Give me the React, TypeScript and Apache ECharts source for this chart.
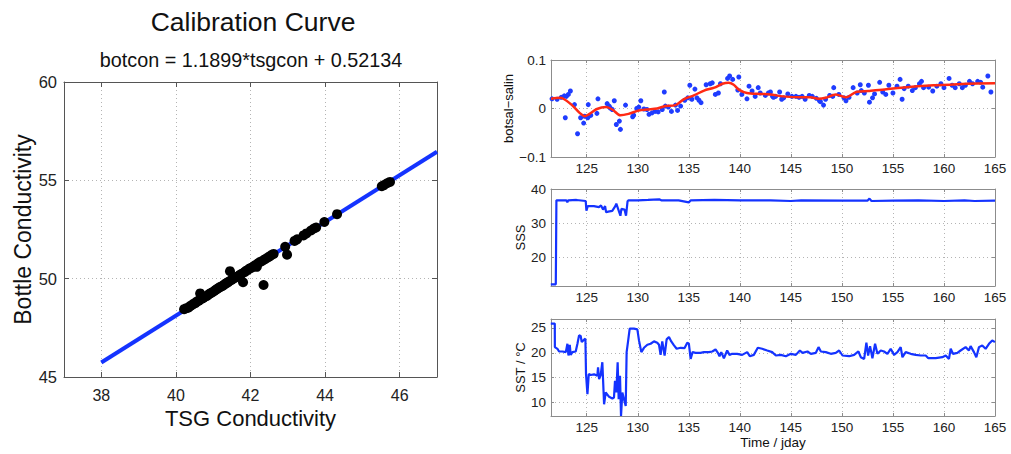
import React, { useEffect, useRef } from "react";
import * as echarts from "echarts";

// ---------- Calibration data ----------
const tsgCond = [
  40.22, 40.28, 40.33, 40.38, 40.42, 40.47, 40.52, 40.55, 40.6, 40.63, 40.65, 40.7, 40.74, 40.78,
  40.83, 40.88, 40.92, 40.97, 41.02, 41.06, 41.1, 41.14, 41.18, 41.22, 41.26, 41.3, 41.34, 41.38,
  41.42, 41.45, 41.48, 41.52, 41.56, 41.6, 41.64, 41.68, 41.72, 41.76, 41.8, 41.84, 41.88, 41.93,
  41.98, 42.03, 42.08, 42.12, 42.17, 42.2, 42.26, 42.31, 42.35, 42.38, 42.44, 42.5, 42.56, 42.62,
  42.93, 42.98, 43.18, 43.25, 43.42, 43.5, 43.62, 43.7, 43.76, 43.98, 44.32, 45.52, 45.58, 45.66, 45.74,
];
const botCond = [
  48.45, 48.5, 48.52, 48.6, 48.65, 48.72, 48.75, 48.82, 48.87, 48.9, 49.25, 48.98, 49.03, 49.08,
  49.12, 49.2, 49.25, 49.3, 49.36, 49.42, 49.47, 49.52, 49.57, 49.6, 49.65, 49.7, 49.76, 49.8,
  49.85, 50.38, 49.92, 49.98, 50.02, 50.06, 50.1, 50.15, 50.2, 50.25, 49.82, 50.33, 50.4, 50.45,
  50.52, 50.56, 50.62, 50.68, 50.6, 50.78, 50.85, 50.9, 49.68, 50.98, 51.05, 51.12, 51.2, 51.26,
  51.62, 51.22, 51.92, 52.0, 52.2, 52.3, 52.45, 52.55, 52.6, 52.88, 53.28, 54.7, 54.76, 54.85, 54.92,
];
const fitX = [38, 47];
const fitY = [45.74, 56.45];

// ---------- botsal - salin ----------
const diffDay = [
  121.6, 122.1, 122.5, 122.8, 122.9, 123.0, 123.2, 123.4, 123.8, 124.1, 124.4, 124.7, 124.8, 125.1,
  125.15, 125.2, 125.4, 126.0, 126.1, 127.0, 127.2, 127.3, 127.5, 127.7, 127.9, 128.2, 128.3, 128.8,
  129.5, 129.6, 129.9, 130.1, 130.3, 130.6, 130.9, 131.1, 131.4, 131.7, 132.0, 132.4, 132.6, 132.7,
  133.0, 133.3, 133.7, 133.9, 134.2, 134.6, 134.9, 135.1, 135.3, 135.6, 135.8, 136.0, 136.2, 136.7,
  137.1, 137.3, 137.6, 137.9, 138.1, 138.8, 139.0, 139.3, 139.8, 139.9, 140.2, 140.7, 140.9, 141.2,
  141.5, 141.8, 142.0, 142.5, 142.8, 143.0, 143.2, 143.3, 143.5, 143.9, 144.1, 144.3, 144.7, 145.1,
  145.5, 145.8, 146.1, 146.4, 146.8, 147.1, 147.5, 147.8, 147.9, 148.2, 148.4, 148.8, 149.1, 149.2,
  149.7, 150.2, 150.4, 150.7, 151.1, 151.5, 151.8, 151.9, 152.2, 152.6, 152.7, 153.0, 153.2, 153.7,
  154.0, 154.3, 154.6, 155.0, 155.4, 155.7, 155.9, 156.1, 156.5, 156.9, 157.2, 157.6, 157.8, 158.0,
  158.5, 158.9, 159.3, 159.7, 160.0, 160.5, 160.8, 161.1, 161.5, 161.8, 162.1, 162.5, 162.8, 163.3,
  163.6, 163.8, 164.3, 164.6,
];
const diffVal = [
  0.02, 0.019, 0.023, 0.026, -0.019, 0.025, 0.029, 0.036, 0.008, -0.052, -0.019, -0.03, -0.016, -0.019,
  0.008, -0.016, -0.014, -0.01, 0.02, 0.01, 0.005, 0.001, -0.002, 0.016, -0.033, -0.026, -0.043, 0.007,
  -0.017, -0.014, 0.0, 0.003, 0.016, -0.001, -0.002, -0.012, -0.009, -0.006, -0.007, -0.002, 0.034, 0.005,
  0.003, -0.006, 0.007, -0.004, 0.005, 0.017, 0.022, 0.048, 0.019, 0.04, 0.022, 0.017, 0.012, 0.049,
  0.051, 0.053, 0.029, 0.032, 0.051, 0.062, 0.067, 0.06, 0.038, 0.065, 0.029, 0.02, 0.046, 0.036,
  0.025, 0.043, 0.032, 0.027, 0.032, 0.034, 0.025, 0.023, 0.025, 0.034, 0.019, 0.022, 0.03, 0.025,
  0.025, 0.023, 0.025, 0.019, 0.027, 0.025, 0.021, 0.016, 0.014, 0.007, 0.019, 0.027, 0.025, 0.043,
  0.029, 0.022, 0.016, 0.023, 0.043, 0.032, 0.049, 0.037, 0.032, 0.048, 0.013, 0.022, 0.03, 0.054,
  0.034, 0.029, 0.048, 0.032, 0.046, 0.06, 0.019, 0.041, 0.046, 0.037, 0.043, 0.051, 0.056, 0.043,
  0.044, 0.036, 0.046, 0.051, 0.043, 0.062, 0.048, 0.043, 0.051, 0.043, 0.048, 0.056, 0.051, 0.056,
  0.054, 0.044, 0.067, 0.034,
];
const smoothDay = [
  121.5, 122.4, 123.5, 124.3, 124.8, 125.2, 126.0, 126.9, 127.5, 128.3, 129.1, 130.1, 130.9, 131.9,
  132.7, 133.7, 134.5, 135.5, 136.5, 137.5, 138.3, 138.9, 139.4, 139.9, 140.7, 142.0, 143.0, 144.2,
  146.1, 146.9, 147.7, 148.4, 149.4, 150.4, 151.4, 152.6, 154.2, 155.8, 157.4, 159.0, 160.6, 162.2, 165.0,
];
const smoothVal = [
  0.02, 0.022, 0.008, -0.009, -0.016, -0.012, -0.001, 0.003, -0.002, -0.014, -0.011, -0.004, -0.002, 0.0,
  0.005, 0.007, 0.019, 0.027, 0.037, 0.043, 0.051, 0.053, 0.049, 0.039, 0.032, 0.03, 0.029, 0.025,
  0.023, 0.023, 0.02, 0.022, 0.029, 0.023, 0.034, 0.036, 0.039, 0.043, 0.046, 0.048, 0.049, 0.051, 0.052,
];

// ---------- SSS ----------
const sssDay = [
  121.48, 121.97, 122.03, 123.0, 123.1, 123.2, 124.0, 124.9, 124.97, 125.1, 125.7, 126.2, 126.4, 126.6,
  126.8, 126.9, 127.1, 127.5, 127.8, 127.9, 128.1, 128.3, 128.4, 128.7, 128.85, 129.0, 129.1, 130.0,
  131.0, 132.1, 132.3, 134.0, 135.0, 135.2, 137.5, 140.0, 143.0, 145.0, 146.0, 150.0, 152.5, 152.7,
  152.9, 155.0, 157.5, 160.0, 162.0, 163.0, 165.0,
];
const sssVal = [
  12.2, 12.2, 36.7, 36.7, 36.1, 36.7, 36.8, 36.5, 33.7, 35.0, 35.0, 34.7, 35.2, 34.0,
  35.0, 33.2, 33.4, 33.6, 35.0, 35.7, 34.0, 32.2, 34.2, 34.0, 32.2, 36.4, 36.7, 36.7,
  36.8, 37.0, 36.7, 36.7, 36.1, 36.7, 36.8, 36.7, 36.7, 36.5, 36.7, 36.6, 36.6, 37.2,
  36.5, 36.6, 36.7, 36.5, 36.7, 36.5, 36.6,
];

// ---------- SST ----------
const sstDay = [
  121.48, 121.87, 121.88, 122.13, 122.29, 122.62, 122.95, 123.11, 123.21, 123.34, 123.43, 123.6, 123.92, 124.09,
  124.25, 124.41, 124.51, 124.74, 124.87, 124.93, 125.07, 125.2, 125.39, 125.72, 126.04, 126.11, 126.21, 126.37,
  126.53, 126.7, 126.86, 127.19, 127.51, 127.67, 127.77, 127.9, 128.03, 128.13, 128.26, 128.36, 128.49, 128.65,
  128.82, 128.91, 129.04, 129.21, 129.63, 129.96, 130.12, 130.35, 130.61, 130.94, 131.26, 131.59, 131.91, 132.08,
  132.24, 132.4, 132.63, 132.83, 133.06, 133.28, 133.55, 133.81, 134.2, 134.59, 134.85, 135.01, 135.18, 135.37,
  135.67, 136.15, 136.48, 136.97, 137.3, 137.62, 137.85, 138.01, 138.18, 138.44, 138.76, 138.99, 139.25, 139.74,
  140.23, 140.72, 140.98, 141.37, 141.76, 142.19, 142.68, 143.17, 143.53, 144.02, 144.51, 145.0, 145.49, 145.88,
  146.14, 146.63, 146.96, 147.45, 147.71, 147.94, 148.42, 148.91, 149.4, 149.73, 150.06, 150.71, 151.2, 151.62,
  151.85, 152.18, 152.4, 152.57, 152.76, 152.99, 153.25, 153.48, 153.81, 154.13, 154.46, 154.78, 155.11, 155.44,
  155.76, 155.93, 156.25, 156.74, 157.23, 157.72, 158.21, 158.47, 159.19, 159.84, 160.17, 160.49, 160.66, 160.88,
  161.31, 161.63, 162.12, 162.45, 162.61, 162.94, 163.17, 163.43, 163.75, 164.08, 164.41, 164.73, 164.99,
];
const sstVal = [
  25.88, 25.88, 21.15, 20.81, 20.27, 20.27, 20.14, 21.82, 19.46, 21.62, 19.59, 20.14, 20.27, 21.82,
  23.51, 23.38, 22.16, 22.64, 22.84, 15.74, 11.69, 15.74, 15.54, 15.68, 15.41, 17.09, 14.73, 15.54,
  18.11, 9.66, 12.03, 11.15, 10.81, 11.01, 14.39, 12.03, 18.11, 10.68, 15.41, 7.3, 12.03, 10.68,
  9.32, 20.14, 22.16, 24.86, 24.86, 24.73, 22.5, 20.14, 21.01, 21.62, 21.82, 22.3, 22.03, 21.62,
  19.59, 22.3, 19.46, 22.7, 23.18, 22.3, 21.49, 20.81, 21.01, 20.95, 22.03, 21.82, 18.78, 20.14,
  20.0, 20.0, 20.14, 20.14, 20.27, 20.68, 20.0, 19.32, 20.14, 18.92, 20.47, 19.59, 19.8, 19.8,
  19.59, 20.14, 19.32, 19.59, 21.01, 20.81, 20.47, 20.14, 19.46, 19.59, 19.32, 19.8, 19.59, 20.47,
  20.0, 20.27, 19.8, 20.0, 21.15, 20.27, 20.14, 19.8, 20.0, 20.47, 19.46, 19.32, 19.59, 20.27,
  19.12, 18.78, 22.03, 19.46, 21.35, 18.92, 21.82, 19.8, 20.47, 20.27, 19.8, 20.81, 19.59, 20.14,
  21.15, 19.12, 20.14, 19.8, 19.59, 19.46, 19.46, 18.92, 18.92, 19.12, 19.46, 18.78, 20.81, 19.8,
  20.0, 20.47, 21.15, 20.47, 21.35, 20.14, 19.12, 21.15, 21.49, 20.81, 21.82, 22.5, 22.16,
];

// ---------- Ticks ----------
const calXTicks = [38, 40, 42, 44, 46];
const calYTicks = [45, 50, 55, 60];
const dayTicks = [125, 130, 135, 140, 145, 150, 155, 160, 165];
const diffTicks = [-0.1, 0, 0.1];
const sssTicks = [20, 30, 40];
const sstTicks = [10, 15, 20, 25];

const FONT = "'Liberation Sans', Arial, Helvetica, sans-serif";

const zip = (a: number[], b: number[]) => a.map((v, i) => [v, b[i]]);

export default function App() {
  const ref = useRef<HTMLDivElement>(null);

  useEffect(() => {
    document.body.style.margin = "0";
    if (!ref.current) return;
    const chart = echarts.init(ref.current, null, { renderer: "svg" });

    const grids = [
      { left: 64, top: 82, width: 373, height: 295 },
      { left: 551, top: 60, width: 444, height: 97 },
      { left: 551, top: 189, width: 444, height: 97 },
      { left: 551, top: 319, width: 444, height: 97 },
    ];

    const frameL = "#555";
    const frameR = "#8c8c8c";
    const gridLine = { show: true, lineStyle: { color: "#b4b4b4", type: [1, 3] as any, width: 1 } };

    const mkX = (gi: number, min: number, max: number, ticks: number[], big: boolean, name = "") => {
      const frame = big ? frameL : frameR;
      return [
        {
          type: "value",
          gridIndex: gi,
          position: "bottom",
          min,
          max,
          name,
          nameLocation: "middle",
          nameGap: big ? 23 : 19,
          nameTextStyle: { fontFamily: FONT, fontSize: big ? 22 : 13.5, color: "#111" },
          axisLine: { show: true, onZero: false, lineStyle: { color: frame, width: 1 } },
          axisTick: { show: true, inside: true, length: big ? 5 : 3, customValues: ticks, lineStyle: { color: frame } },
          axisLabel: {
            show: true,
            customValues: ticks,
            margin: big ? 10 : 4,
            fontFamily: FONT,
            fontSize: big ? 16 : 13.5,
            color: "#222",
          },
          splitLine: gridLine,
        },
        {
          type: "value",
          gridIndex: gi,
          position: "top",
          min,
          max,
          axisLine: { show: true, onZero: false, lineStyle: { color: frame, width: 1 } },
          axisTick: { show: true, inside: true, length: big ? 5 : 3, customValues: ticks, lineStyle: { color: frame } },
          axisLabel: { show: false },
          splitLine: { show: false },
        },
      ];
    };

    const mkY = (
      gi: number,
      min: number,
      max: number,
      ticks: number[],
      big: boolean,
      name: string,
      gap: number,
      fmt?: (v: number) => string
    ) => {
      const frame = big ? frameL : frameR;
      return [
        {
          type: "value",
          gridIndex: gi,
          position: "left",
          min,
          max,
          name,
          nameLocation: "middle",
          nameGap: gap,
          nameRotate: 90,
          nameTextStyle: { fontFamily: FONT, fontSize: big ? 23 : 13, color: "#111" },
          axisLine: { show: true, onZero: false, lineStyle: { color: frame, width: 1 } },
          axisTick: { show: true, inside: true, length: big ? 5 : 3, customValues: ticks, lineStyle: { color: frame } },
          axisLabel: {
            show: true,
            customValues: ticks,
            margin: big ? 7 : 5,
            fontFamily: FONT,
            fontSize: big ? 16.5 : 13.5,
            color: "#222",
            formatter: fmt,
          },
          splitLine: gridLine,
        },
        {
          type: "value",
          gridIndex: gi,
          position: "right",
          min,
          max,
          axisLine: { show: true, onZero: false, lineStyle: { color: frame, width: 1 } },
          axisTick: { show: true, inside: true, length: big ? 5 : 3, customValues: ticks, lineStyle: { color: frame } },
          axisLabel: { show: false },
          splitLine: { show: false },
        },
      ];
    };

    const minusFmt = (v: number) => (Math.abs(v) < 1e-9 ? "0" : String(v).replace("-", "\u2212"));

    const xAxes = [
      ...mkX(0, 37, 47, calXTicks, true, "TSG Conductivity"),
      ...mkX(1, 121.5, 165, dayTicks, false),
      ...mkX(2, 121.5, 165, dayTicks, false),
      ...mkX(3, 121.5, 165, dayTicks, false, "Time / jday"),
    ];
    const yAxes = [
      ...mkY(0, 45, 60, calYTicks, true, "Bottle Conductivity", 30),
      ...mkY(1, -0.1, 0.1, diffTicks, false, "botsal\u2212salin", 32, minusFmt),
      ...mkY(2, 11.7, 40, sssTicks, false, "SSS", 20),
      ...mkY(3, 7.3, 26.8, sstTicks, false, "SST / \u00B0C", 20),
    ];

    const blue = "#1433ff";

    chart.setOption({
      animation: false,
      backgroundColor: "#ffffff",
      textStyle: { fontFamily: FONT },
      grid: grids.map((g) => ({ ...g, containLabel: false })),
      xAxis: xAxes,
      yAxis: yAxes,
      graphic: [
        {
          type: "text",
          x: 253,
          y: 22,
          style: {
            text: "Calibration Curve",
            font: `26.5px ${FONT}`,
            fill: "#111",
            align: "center",
            verticalAlign: "middle",
          },
        },
        {
          type: "text",
          x: 251,
          y: 60,
          style: {
            text: "botcon = 1.1899*tsgcon + 0.52134",
            font: `19.8px ${FONT}`,
            fill: "#111",
            align: "center",
            verticalAlign: "middle",
          },
        },
      ],
      series: [
        {
          type: "line",
          xAxisIndex: 0,
          yAxisIndex: 0,
          data: zip(fitX, fitY),
          symbol: "none",
          lineStyle: { color: blue, width: 4 },
          z: 2,
        },
        {
          type: "scatter",
          xAxisIndex: 0,
          yAxisIndex: 0,
          data: zip(tsgCond, botCond),
          symbolSize: 10,
          itemStyle: { color: "#000", opacity: 1 },
          z: 3,
        },
        {
          type: "scatter",
          xAxisIndex: 2,
          yAxisIndex: 2,
          data: zip(diffDay, diffVal),
          symbolSize: 5,
          itemStyle: { color: "#1f3cff", opacity: 1 },
          z: 2,
        },
        {
          type: "line",
          xAxisIndex: 2,
          yAxisIndex: 2,
          data: zip(smoothDay, smoothVal),
          smooth: 0.3,
          symbol: "none",
          lineStyle: { color: "#ff2a14", width: 2.5 },
          z: 3,
        },
        {
          type: "line",
          xAxisIndex: 4,
          yAxisIndex: 4,
          data: zip(sssDay, sssVal),
          symbol: "none",
          lineStyle: { color: blue, width: 2.2 },
        },
        {
          type: "line",
          xAxisIndex: 6,
          yAxisIndex: 6,
          data: zip(sstDay, sstVal),
          symbol: "none",
          lineStyle: { color: blue, width: 2.2 },
        },
      ],
    });

    return () => chart.dispose();
  }, []);

  return <div ref={ref} style={{ width: 1011, height: 454 }} />;
}
